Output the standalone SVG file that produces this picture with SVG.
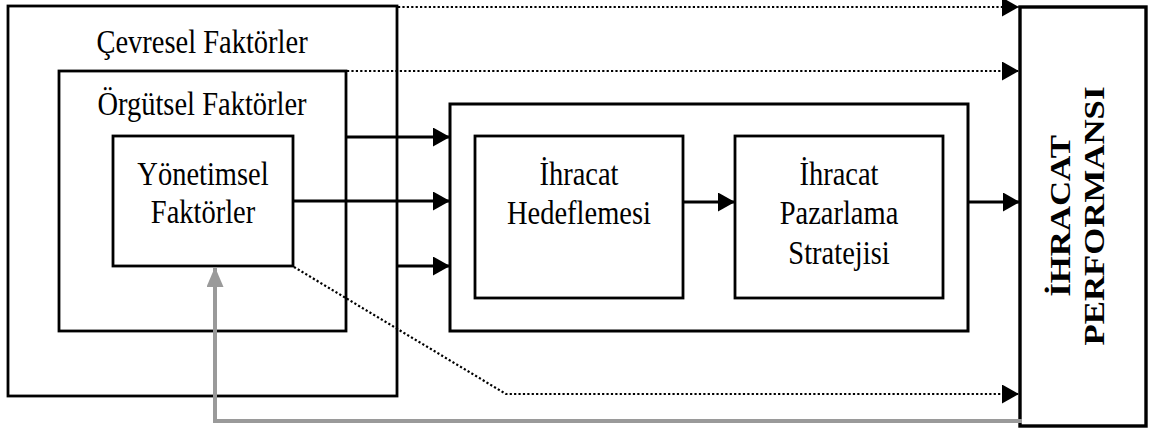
<svg xmlns="http://www.w3.org/2000/svg" width="1150" height="430" viewBox="0 0 1150 430">
  <style>
    .box { fill: none; stroke: #000; stroke-width: 2.8; }
    .lbl { font-family: "Liberation Serif", "Times New Roman", serif; font-size: 28.5px; fill: #000; text-anchor: middle; }
    .big { font-family: "Liberation Serif", "Times New Roman", serif; font-size: 30px; font-weight: bold; fill: #000; text-anchor: middle; }
    .solid { fill: none; stroke: #000; stroke-width: 2.8; }
    .dot { fill: none; stroke: #000; stroke-width: 2.2; stroke-dasharray: 2.2 2.2; }
    .fb { fill: none; stroke: #9a9a9a; stroke-width: 4; }
  </style>
  <defs>
    <marker id="head" markerUnits="userSpaceOnUse" markerWidth="19" markerHeight="20" refX="17" refY="9.5" orient="auto">
      <path d="M0,0 L17,9.5 L0,19 Z" fill="#000"/>
    </marker>
    <marker id="headGray" markerUnits="userSpaceOnUse" markerWidth="22" markerHeight="18" refX="20" refY="8.5" orient="auto">
      <path d="M0,0 L20,8.5 L0,17 Z" fill="#9a9a9a"/>
    </marker>
  </defs>

  <rect width="1150" height="430" fill="#fff"/>

  <!-- nested factor boxes -->
  <g id="cevresel">
    <rect class="box" x="8" y="6" width="389" height="390"/>
    <text class="lbl" transform="translate(202,53) scale(1,1.15)">Çevresel Faktörler</text>
  </g>
  <g id="orgutsel">
    <rect class="box" x="59" y="71" width="287" height="260"/>
    <text class="lbl" transform="translate(202,115) scale(1,1.15)">Örgütsel Faktörler</text>
  </g>
  <g id="yonetimsel">
    <rect class="box" x="113" y="136" width="180" height="130"/>
    <text class="lbl" transform="translate(203,185) scale(1,1.15)">Yönetimsel</text>
    <text class="lbl" transform="translate(203,223) scale(1,1.15)">Faktörler</text>
  </g>

  <!-- strategy block -->
  <g id="strateji-blok">
    <rect class="box" x="450" y="104" width="518" height="227" style="stroke-width:3"/>
  </g>
  <g id="hedefleme">
    <rect class="box" x="475" y="136" width="208" height="162"/>
    <text class="lbl" transform="translate(579,185) scale(1,1.15)">İhracat</text>
    <text class="lbl" transform="translate(579,224) scale(1,1.15)">Hedeflemesi</text>
  </g>
  <g id="pazarlama">
    <rect class="box" x="735" y="136" width="208" height="162"/>
    <text class="lbl" transform="translate(839,185) scale(1,1.15)">İhracat</text>
    <text class="lbl" transform="translate(839,224) scale(1,1.15)">Pazarlama</text>
    <text class="lbl" transform="translate(839,264) scale(1,1.15)">Stratejisi</text>
  </g>

  <!-- performance box -->
  <g id="performans">
    <rect class="box" x="1020" y="7" width="126" height="419" style="stroke-width:3.4"/>
    <text class="big" transform="translate(1070,216) rotate(-90) scale(1.16,1)">İHRACAT</text>
    <text class="big" transform="translate(1104,216) rotate(-90) scale(1.16,1)">PERFORMANSI</text>
  </g>

  <!-- connectors -->
  <g id="connectors">
    <line class="solid" x1="346" y1="137" x2="450" y2="137" marker-end="url(#head)"/>
    <line class="solid" x1="293" y1="201" x2="450" y2="201" marker-end="url(#head)"/>
    <line class="solid" x1="397" y1="266" x2="450" y2="266" marker-end="url(#head)"/>
    <line class="solid" x1="683" y1="202" x2="735" y2="202" marker-end="url(#head)"/>
    <line class="solid" x1="968" y1="202" x2="1020" y2="202" marker-end="url(#head)"/>

    <line class="dot" x1="398" y1="7" x2="1019" y2="7" marker-end="url(#head)"/>
    <line class="dot" x1="347" y1="71" x2="1019" y2="71" marker-end="url(#head)"/>
    <polyline class="dot" points="294,267 506,394 1019,394" marker-end="url(#head)"/>

    <polyline class="fb" points="1022,421 215,421 215,267" marker-end="url(#headGray)"/>
  </g>
</svg>
